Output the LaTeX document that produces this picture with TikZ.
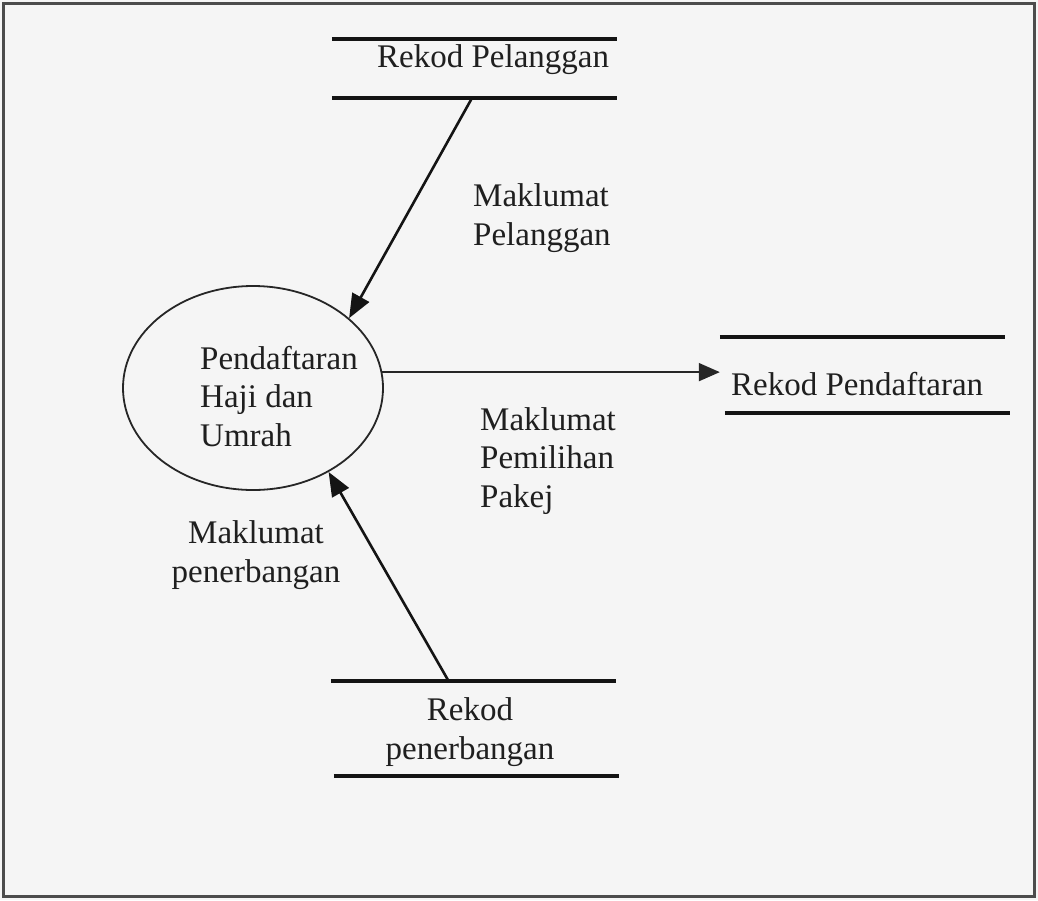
\documentclass[tikz,border=0pt]{standalone}
\usepackage{fontspec}
\setmainfont{Liberation Serif}
\usetikzlibrary{arrows.meta,shapes.geometric}
\begin{document}
\begin{tikzpicture}[x=1pt,y=-1pt,
  lbl/.style={inner sep=0pt, font=\fontsize{33}{38.5}\selectfont, text=black!88},
  store/.style={inner sep=0pt, minimum width=285pt},
  storeline/.style={line width=4.5pt, black!92},
  flow/.style={line width=2.6pt, black!92, -{Triangle[length=24pt,width=19pt]}},
  thinflow/.style={line width=1.8pt, black!85, -{Triangle[length=21pt,width=18pt]}},
]
\fill[black!4] (0,0) rectangle (1038,900);
\useasboundingbox (0,0) rectangle (1038,900);
\draw[line width=3pt, black!70] (3,3) rectangle (1034,896);

% process
\node (proc) [ellipse, draw, line width=1.8pt, black!85, inner sep=0pt,
  minimum width=260pt, minimum height=204pt] at (253,388) {};
\node (proctext) [lbl, anchor=base west, align=left] at (200,446)
  {Pendaftaran\\Haji dan\\Umrah};

% data store: Rekod Pelanggan
\node (s1) [store, minimum height=59pt] at (474.5,68.5) {};
\draw[storeline] (s1.north west) -- (s1.north east);
\draw[storeline] (s1.south west) -- (s1.south east);
\node (s1text) [lbl, anchor=base west] at (377,67) {Rekod Pelanggan};
\coordinate (s1out) at (472,98);

% data store: Rekod Pendaftaran
\node (s2) [store, minimum height=76pt] at (862.5,375) {};
\draw[storeline] (s2.north west) -- (s2.north east);
\draw[storeline] ([xshift=5pt]s2.south west) -- ([xshift=5pt]s2.south east);
\node (s2text) [lbl, anchor=base west] at (731,395) {Rekod Pendaftaran};

% data store: Rekod penerbangan
\node (s3) [store, minimum height=95pt] at (473.5,728.5) {};
\draw[storeline] (s3.north west) -- (s3.north east);
\draw[storeline] ([xshift=3pt]s3.south west) -- ([xshift=3pt]s3.south east);
\node (s3text) [lbl, anchor=base, align=center] at (470,759) {Rekod\\penerbangan};
\coordinate (s3out) at (448,680);

% flows
\draw[flow] (s1out) -- (proc.36);
\draw[thinflow] (proc.7) -- (proc.7 -| s2.west);
\draw[flow] (s3out) -- (proc.-48);

% flow labels
\node (l1) [lbl, anchor=base west, align=left] at (473,245) {Maklumat\\Pelanggan};
\node (l2) [lbl, anchor=base west, align=left] at (480,507) {Maklumat\\Pemilihan\\Pakej};
\node (l3) [lbl, anchor=base, align=center] at (256,582) {Maklumat\\penerbangan};
\end{tikzpicture}
\end{document}
